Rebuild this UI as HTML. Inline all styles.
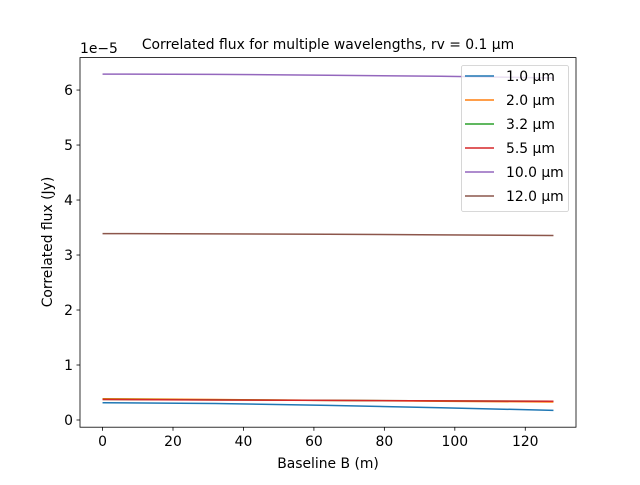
<!DOCTYPE html>
<html><head><meta charset="utf-8"><style>
body{margin:0;background:#fff}
svg{font-family:"DejaVu Sans","Liberation Sans",sans-serif}
</style></head><body>
<svg id="chart" width="640" height="480" xmlns="http://www.w3.org/2000/svg"></svg>
<script>
const xs = [0, 32, 64, 96, 128];
const seriesLabels = ["1.0 μm","2.0 μm","3.2 μm","5.5 μm","10.0 μm","12.0 μm"];
const seriesNames = ["1.0","2.0","3.2","5.5","10.0","12.0"];
const s1 = [0.314, 0.300, 0.265, 0.222, 0.176];
const s2 = [0.387, 0.372, 0.357, 0.342, 0.327];
const s3 = [0.375, 0.366, 0.357, 0.348, 0.340];
const s5 = [0.372, 0.364, 0.356, 0.348, 0.340];
const s10 = [6.29, 6.285, 6.27, 6.25, 6.22];
const s12 = [3.39, 3.385, 3.377, 3.367, 3.355];
const xTicks = [0, 20, 40, 60, 80, 100, 120];
const yTicks = [0, 1, 2, 3, 4, 5, 6];
const colors = ["#1f77b4","#ff7f0e","#2ca02c","#d62728","#9467bd","#8c564b"];
const L=80,R=576,T=57.6,B=427.2;
const xmin=-6.4,xmax=134.4,ymin=-0.131,ymax=6.59;
const X=v=>L+(v-xmin)/(xmax-xmin)*(R-L);
const Y=v=>B-(v-ymin)/(ymax-ymin)*(B-T);
const FS=13.9;
const svg=document.getElementById('chart');
const NS="http://www.w3.org/2000/svg";
function mk(tag,attrs,parent){const e=document.createElementNS(NS,tag);for(const k in attrs)e.setAttribute(k,attrs[k]);(parent||svg).appendChild(e);return e;}
const all=[s1,s2,s3,s5,s10,s12];
all.forEach((s,i)=>{
  const p=mk('polyline',{points:s.map((v,j)=>X(xs[j])+','+Y(v)).join(' '),fill:'none',stroke:colors[i],'stroke-width':1.5});
  
  
});
const frame=mk('rect',{x:L,y:T,width:R-L,height:B-T,fill:'none',stroke:'#000','stroke-width':0.8});


xTicks.forEach(t=>{
  mk('line',{x1:X(t),x2:X(t),y1:B,y2:B+3.5,stroke:'#000','stroke-width':0.8});
  const tx=mk('text',{x:X(t),y:B+19,'text-anchor':'middle','font-size':FS});
  tx.textContent=t;
  
  
});
yTicks.forEach(t=>{
  mk('line',{x1:L-3.5,x2:L,y1:Y(t),y2:Y(t),stroke:'#000','stroke-width':0.8});
  const tx=mk('text',{x:L-7,y:Y(t)+5,'text-anchor':'end','font-size':FS});
  tx.textContent=t;
  
  
});
let t;
t=mk('text',{x:80,y:53,'font-size':FS});t.textContent='1e−5';


t=mk('text',{x:328,y:49,'text-anchor':'middle','font-size':FS});t.textContent='Correlated flux for multiple wavelengths, rv = 0.1 μm';


t=mk('text',{x:328,y:468,'text-anchor':'middle','font-size':FS});t.textContent='Baseline B (m)';


t=mk('text',{x:52,y:242,'text-anchor':'middle','font-size':FS,transform:'rotate(-90 52 242)'});t.textContent='Correlated flux (Jy)';


const lg=mk('g',{});


mk('rect',{x:461.5,y:65.5,width:107,height:146,rx:2,fill:'#fff','fill-opacity':0.8,stroke:'#ccc','stroke-width':0.8},lg);
seriesLabels.forEach((s,i)=>{
  const y=76+i*24;
  const g=mk('g',{},lg);
  
  
  mk('line',{x1:465,x2:494,y1:y,y2:y,stroke:colors[i],'stroke-width':1.5},g);
  const tx=mk('text',{x:506,y:y+5,'font-size':FS},g);tx.textContent=s;
});
</script>
</body></html>
